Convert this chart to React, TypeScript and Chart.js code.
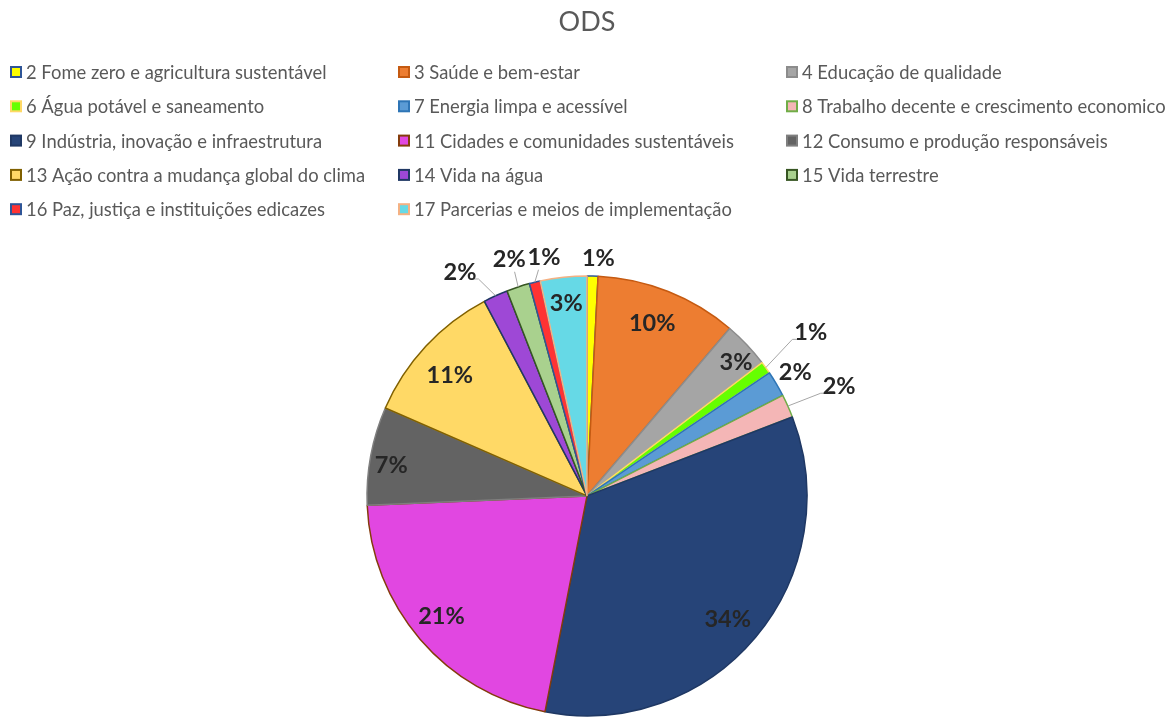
import React, { useEffect, useRef } from "react";
import { Chart, registerables } from "chart.js";

Chart.register(...registerables);

const categories: string[] = [
  "2 Fome zero e agricultura sustentável",
  "3 Saúde e bem-estar",
  "4 Educação de qualidade",
  "6 Água potável e saneamento",
  "7 Energia limpa e acessível",
  "8 Trabalho decente e crescimento economico",
  "9 Indústria, inovação e infraestrutura",
  "11 Cidades e comunidades sustentáveis",
  "12 Consumo e produção responsáveis",
  "13 Ação contra a mudança global do clima",
  "14 Vida na água",
  "15 Vida terrestre",
  "16 Paz, justiça e instituições edicazes",
  "17 Parcerias e meios de implementação",
];

const values: number[] = [0.8, 10.4, 3.4, 0.9, 1.9, 1.7, 33.8, 21.2, 7.2, 10.7, 1.8, 1.7, 0.8, 3.4];

const fillColors: string[] = [
  "#FFFF00", "#ED7D31", "#A5A5A5", "#66FF00", "#5B9BD5", "#F4B6B6", "#264478",
  "#E147E1", "#636363", "#FFD966", "#9E48D6", "#A9D18E", "#FF3333", "#66D9E6",
];

const borderColors: string[] = [
  "#2F5597", "#C55A11", "#8C8C8C", "#FFD966", "#2E75B6", "#70AD47", "#1F3864",
  "#843C0C", "#7F7F7F", "#806000", "#203864", "#375623", "#2F5597", "#F4B183",
];

// label placement (style): radius factor, angle shift in degrees, leader line
const labelRadius: number[] = [1.08, 0.84, 0.91, 1.26, 1.1, 1.25, 0.85, 0.86, 0.9, 0.83, 1.17, 1.13, 1.1, 0.88];
const labelShift: number[] = [1.3, -1, 1.5, -0.5, 0, 0.6, 1.2, 1, -1.8, -1.6, -5, 0, 3.5, 0];
const labelLeader: boolean[] = [false, false, false, true, false, true, false, false, false, false, true, true, true, false];

const LEGEND_COLS = [10, 398, 786];
const LEGEND_ROW0 = 72;
const LEGEND_ROW_GAP = 34.3;

const legendPlugin = {
  id: "gridLegend",
  afterDraw(chart: any) {
    const ctx = chart.ctx;
    const ds = chart.data.datasets[0];
    ctx.save();
    ctx.font = "18.4px Lato";
    ctx.textBaseline = "middle";
    ctx.textAlign = "left";
    chart.data.labels.forEach((lab: string, i: number) => {
      const col = i % 3;
      const row = Math.floor(i / 3);
      const x = LEGEND_COLS[col];
      const y = LEGEND_ROW0 + row * LEGEND_ROW_GAP;
      ctx.fillStyle = ds.backgroundColor[i];
      ctx.fillRect(x + 1, y - 5, 10, 10);
      ctx.strokeStyle = ds.borderColor[i];
      ctx.lineWidth = 2;
      ctx.strokeRect(x + 1, y - 5, 10, 10);
      ctx.fillStyle = "#595959";
      ctx.fillText(lab, x + 16, y + 1);
    });
    ctx.restore();
  },
};

const labelsPlugin = {
  id: "sliceLabels",
  afterDatasetsDraw(chart: any) {
    const ctx = chart.ctx;
    const meta = chart.getDatasetMeta(0);
    const data: number[] = chart.data.datasets[0].data;
    const total = data.reduce((a, b) => a + b, 0);
    ctx.save();
    ctx.font = "bold 23.5px Lato";
    ctx.textAlign = "center";
    ctx.textBaseline = "middle";
    meta.data.forEach((arc: any, i: number) => {
      const { x, y, startAngle, endAngle, outerRadius } = arc.getProps(
        ["x", "y", "startAngle", "endAngle", "outerRadius"],
        true
      );
      const mid = (startAngle + endAngle) / 2;
      const la = mid + (labelShift[i] * Math.PI) / 180;
      const r = outerRadius * labelRadius[i];
      const lx = x + Math.cos(la) * r;
      const ly = y + Math.sin(la) * r;
      const text = Math.round((data[i] / total) * 100) + "%";
      if (labelLeader[i]) {
        const ax = x + Math.cos(mid) * outerRadius;
        const ay = y + Math.sin(mid) * outerRadius;
        const w = ctx.measureText(text).width;
        let ex: number, ey: number, bx: number;
        if (lx - ax > w / 2) {
          ex = lx - w / 2 - 2;
          ey = ly + 7;
          bx = ex + 6;
        } else if (ax - lx > w / 2) {
          ex = lx + w / 2 + 2;
          ey = ly + 7;
          bx = ex - 6;
        } else {
          ex = lx + (ax - lx) * 0.6;
          ey = ly + 12;
          bx = ex;
        }
        ctx.strokeStyle = "#A6A6A6";
        ctx.lineWidth = 1;
        ctx.beginPath();
        ctx.moveTo(ax, ay);
        ctx.lineTo(ex, ey);
        ctx.lineTo(bx, ey);
        ctx.stroke();
      }
      ctx.fillStyle = "#262626";
      ctx.fillText(text, lx, ly);
    });
    ctx.restore();
  },
};

export default function App() {
  const ref = useRef<HTMLCanvasElement | null>(null);
  useEffect(() => {
    if (!ref.current) return;
    const chart = new Chart(ref.current, {
      type: "pie",
      data: {
        labels: categories,
        datasets: [
          {
            data: values,
            backgroundColor: fillColors,
            borderColor: borderColors,
            borderWidth: 1.5,
            hoverOffset: 0,
            radius: 220,
          } as any,
        ],
      },
      options: {
        animation: false,
        responsive: true,
        maintainAspectRatio: false,
        layout: { padding: { left: 5, right: 0, top: 0, bottom: 2 } },
        plugins: {
          legend: { display: false },
          tooltip: { enabled: false },
          title: {
            display: true,
            text: "ODS",
            color: "#595959",
            font: { family: "Lato", size: 27, weight: "normal" },
            padding: { top: 6, bottom: 237.4 },
          },
        },
      },
      plugins: [legendPlugin, labelsPlugin],
    });
    return () => chart.destroy();
  }, []);
  return (
    <div style={{ position: "absolute", left: 0, top: 0, width: 1169, height: 718, background: "#fff" }}>
      <canvas ref={ref} />
    </div>
  );
}
